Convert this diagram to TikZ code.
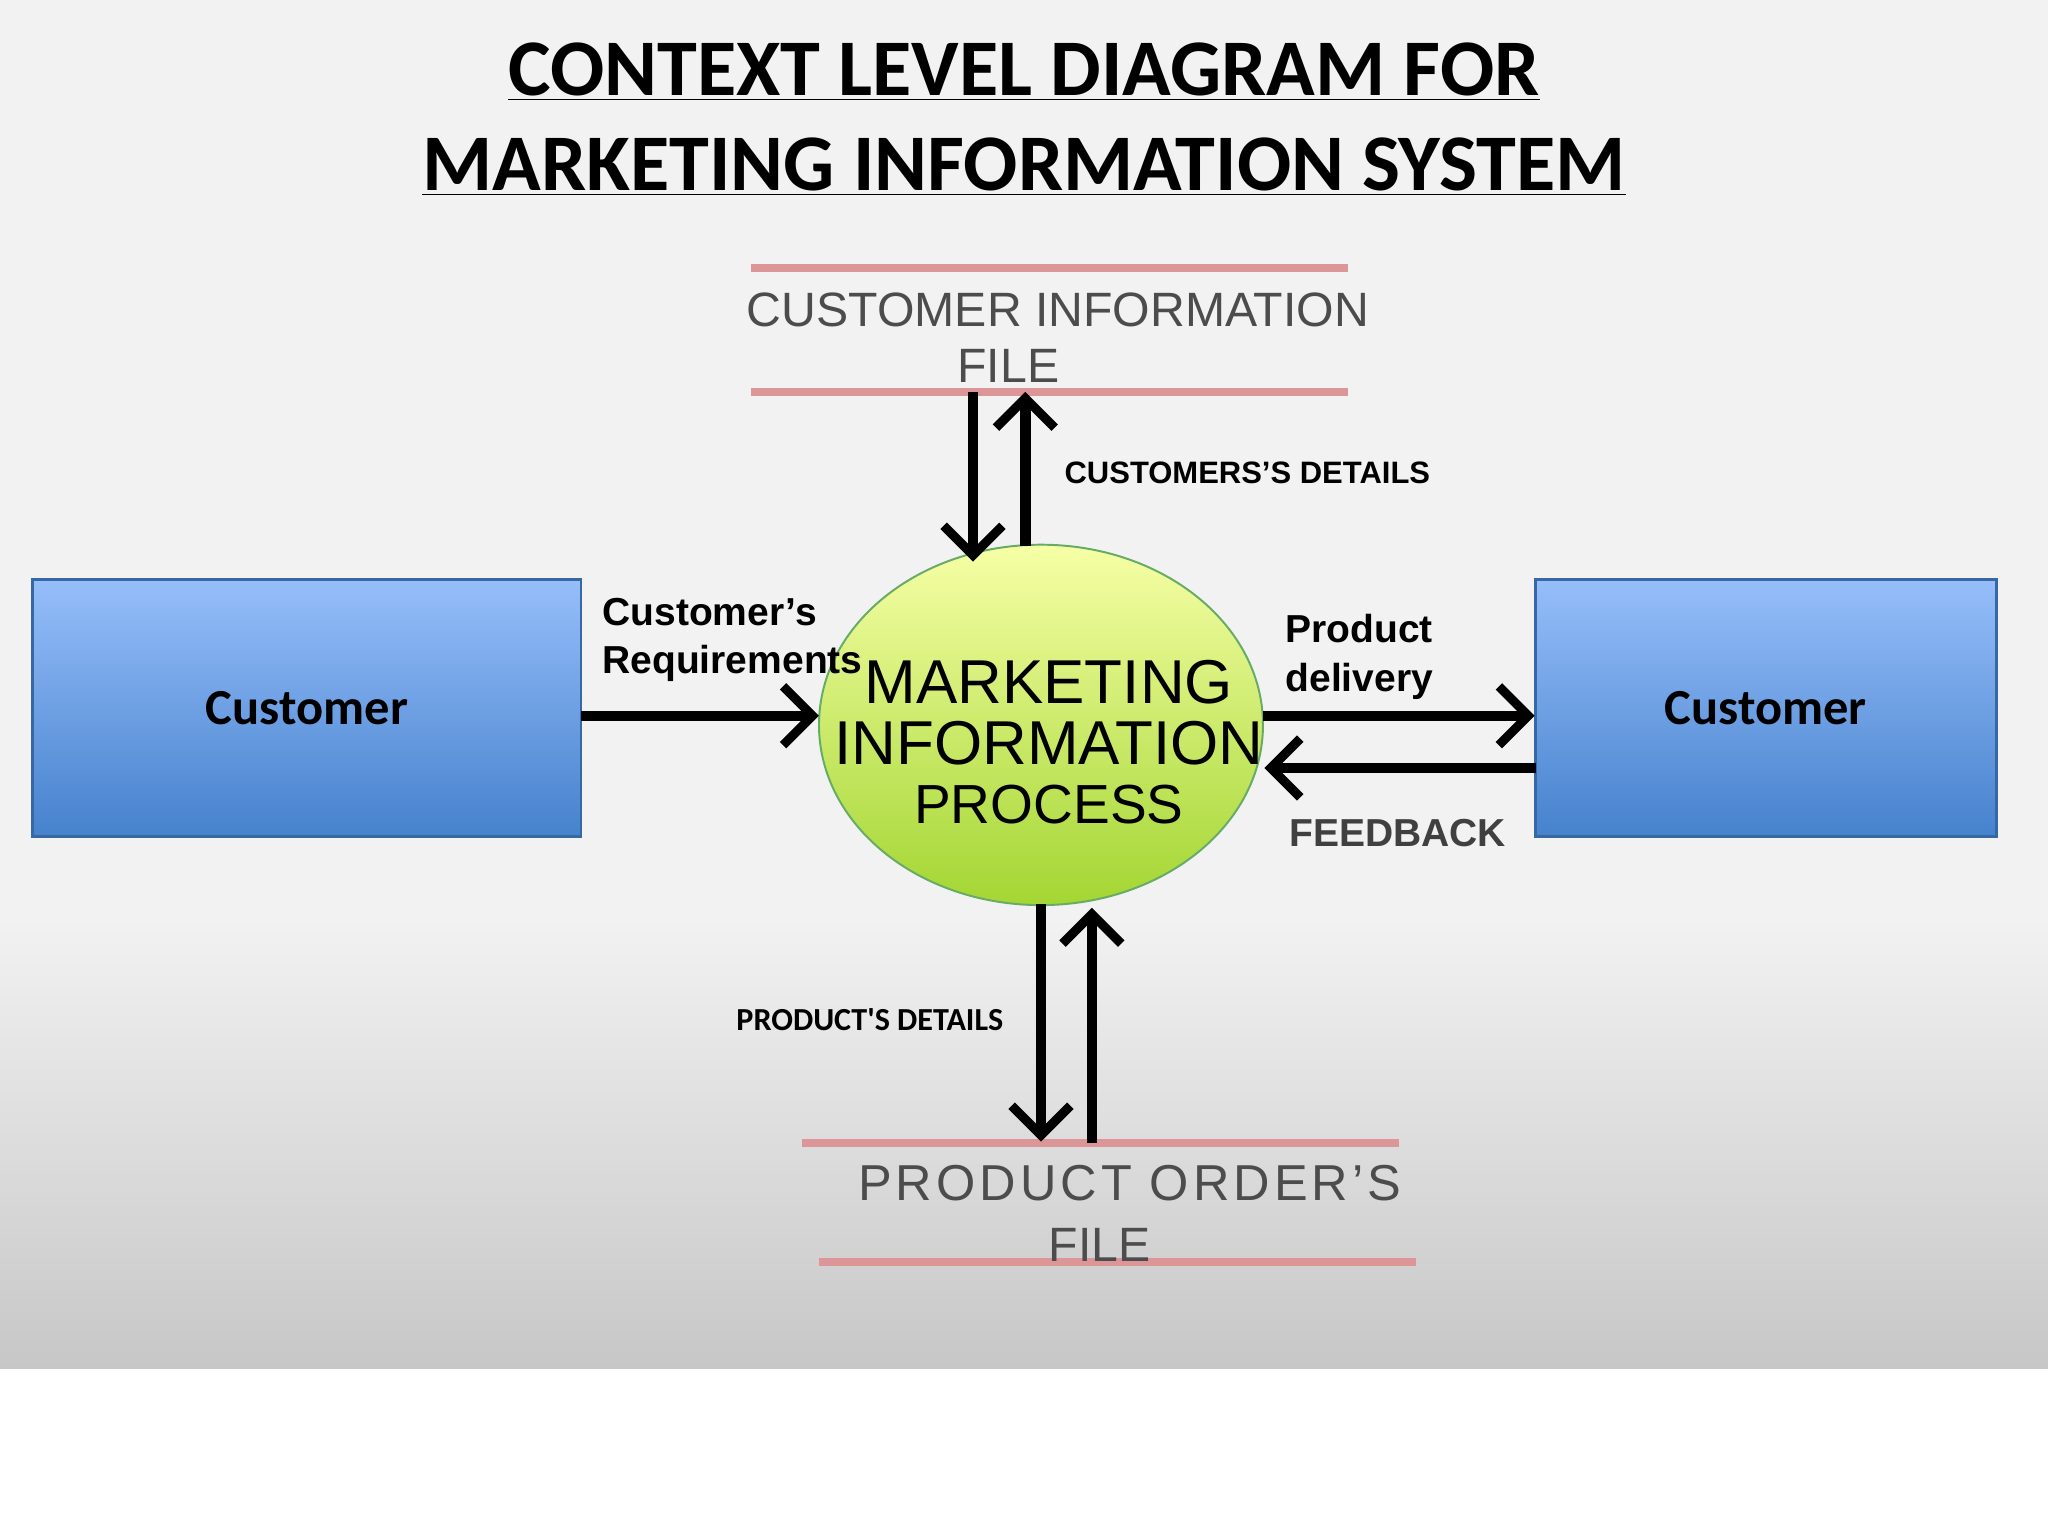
\documentclass[tikz,border=0pt]{standalone}
\usepackage{fontspec}
\setmainfont{Liberation Sans}
\newfontfamily\calib{Carlito}
\usetikzlibrary{arrows.meta,positioning,shapes.geometric}
\definecolor{filered}{RGB}{221,150,152}
\definecolor{boxtop}{RGB}{150,190,250}
\definecolor{boxbot}{RGB}{70,130,205}
\tikzset{
  flow/.style={line width=1.6mm, -{Straight Barb[length=4.5mm,width=9mm,line width=1.4mm]}},
  store/.style={line width=1.2mm, filered},
  entity/.style={draw=boxbot!80!black, line width=0.4mm, top color=boxtop, bottom color=boxbot,
    minimum height=3.94cm, font=\calib\bfseries\fontsize{22}{26}\selectfont},
  lbl/.style={font=\bfseries\fontsize{17}{21}\selectfont, align=left},
  storetxt/.style={text=black!70, font=\fontsize{21}{25}\selectfont},
  proctxt/.style={font=\fontsize{27}{33}\selectfont},
}
\begin{document}
\begin{tikzpicture}[x=0.02cm,y=-0.02cm]
\useasboundingbox (0,0) rectangle (1568,1176);
% background
\fill[black!5] (0,0) rectangle (1568,700);
\shade[top color=black!5, bottom color=black!22] (0,700) rectangle (1568,1048);
\fill[white] (0,1048) rectangle (1568,1176);

% title
\node (t1) at (784,55) {\calib\bfseries\fontsize{35}{42}\selectfont\underline{CONTEXT LEVEL DIAGRAM FOR}};
\node (t2) at (784,128) {\calib\bfseries\fontsize{35}{42}\selectfont\underline{MARKETING INFORMATION SYSTEM}};

% data store: customer information file
\draw[store] (575,205) -- (1032,205);
\draw[store] (575,300) -- (1032,300);
\node[storetxt] (cftxt) at (810,237) {CUSTOMER INFORMATION};
\node[storetxt] (cftxt2) at (772,280) {FILE};

% data store: product order's file
\draw[store] (614,875) -- (1071,875);
\draw[store] (627,966) -- (1084,966);
\node[storetxt, font=\fontsize{22}{25}\selectfont\addfontfeature{LetterSpace=8}] (pftxt) at (865,906) {PRODUCT ORDER'S};
\node[storetxt] (pftxt2) at (842,953) {FILE};

% process
\node[ellipse, draw=green!45!black!60, line width=0.3mm, inner sep=0pt,
  top color=green!10!yellow!35, bottom color=green!55!black!45!yellow!80,
  minimum width=6.8cm, minimum height=5.52cm] (mip) at (797,555) {};
\node[proctxt] (m1) at (803,522) {MARKETING};
\node[proctxt] (m2) at (803,569) {INFORMATION};
\node[proctxt, font=\fontsize{24}{30}\selectfont] (m3) at (803,616) {PROCESS};

% entities
\node[entity, minimum width=8.4cm] (cust1) at (235,542) {Customer};
\node[entity, minimum width=7.06cm] (cust2) at (1352,542) {Customer};

% flows
\coordinate (a1) at (745,300); \coordinate (a2) at (745,430);
\coordinate (b1) at (785,418); \coordinate (b2) at (785,300);
\draw[flow] (a1) -- (a2);
\draw[flow] (b1) -- (b2);
\node[lbl, font=\bfseries\fontsize{13.5}{16}\selectfont] (cdet) at (955,362) {CUSTOMERS'S DETAILS};

\coordinate (c1) at (445,548); \coordinate (c2) at (627,548);
\draw[flow] (c1) -- (c2);
\node[lbl, anchor=west] (creq) at (455,490) {Customer's\\Requirements};

\coordinate (d1) at (967,548); \coordinate (d2) at (1175,548);
\coordinate (e1) at (1176,588); \coordinate (e2) at (968,588);
\draw[flow] (d1) -- (d2);
\draw[flow] (e1) -- (e2);
\node[lbl, anchor=west] (pdel) at (978,503) {Product\\delivery};
\node[font=\bfseries\fontsize{17}{20}\selectfont, text=black!75] (fb) at (1070,638) {FEEDBACK};

\coordinate (f1) at (797,692); \coordinate (f2) at (797,874);
\coordinate (g1) at (836,875); \coordinate (g2) at (836,695);
\draw[flow] (f1) -- (f2);
\draw[flow] (g1) -- (g2);
\node[font=\calib\bfseries\fontsize{14}{17}\selectfont] (pdet) at (666,781) {PRODUCT'S DETAILS};
\end{tikzpicture}
\end{document}
